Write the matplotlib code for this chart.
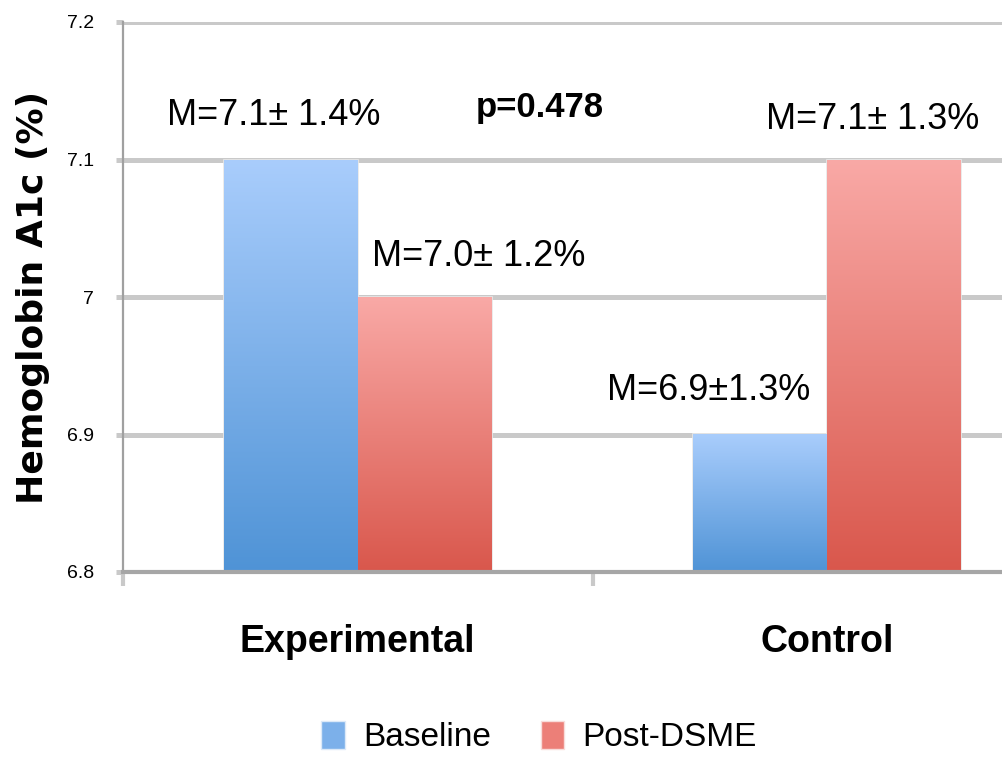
import numpy as np
import matplotlib
matplotlib.use("Agg")
import matplotlib.pyplot as plt
from matplotlib import font_manager
from matplotlib.patches import Patch
from matplotlib.colors import LinearSegmentedColormap

# --- data ---
groups = ["Experimental", "Control"]
series = ["Baseline", "Post-DSME"]
baseline = [7.1, 6.9]
post_dsme = [7.0, 7.1]
baseline_sd = [1.4, 1.3]
post_sd = [1.2, 1.3]
y_ticks = [6.8, 6.9, 7.0, 7.1, 7.2]
y_tick_labels = ["6.8", "6.9", "7", "7.1", "7.2"]
p_text = "p=0.478"

# --- font ---
names = {f.name for f in font_manager.fontManager.ttflist}
family = "Liberation Sans Narrow" if "Liberation Sans Narrow" in names else "Liberation Sans"
plt.rcParams["font.family"] = [family, "DejaVu Sans"]

W, H, DPI = 1002, 758, 100
fig = plt.figure(figsize=(W / DPI, H / DPI), dpi=DPI)
# axes box in pixels: left 123, right 1062 (runs past the figure edge), bottom 572, top 22
ax = fig.add_axes([123 / W, (H - 572) / H, (1062 - 123) / W, (572 - 22) / H])
ax.set_xlim(-0.5, 1.5)
ax.set_ylim(6.8, 7.2)

grid_c = "#c9c9c9"
ax.set_yticks(y_ticks)
ax.set_yticklabels(y_tick_labels, fontsize=14)
ax.yaxis.grid(True, color=grid_c, linewidth=3.6, zorder=0)
ax.set_axisbelow(True)
ax.tick_params(axis="y", length=5, width=3.6, color=grid_c, pad=16)
ax.set_xticks([-0.5, 0.5, 1.5], minor=False)
ax.set_xticklabels([])
ax.tick_params(axis="x", length=10, width=3, color="#c9c9c9")

for s in ["top", "right"]:
    ax.spines[s].set_visible(False)
ax.spines["left"].set_color("#a0a0a0")
ax.spines["left"].set_linewidth(1.6)
ax.spines["bottom"].set_color("#a6a6a6")
ax.spines["bottom"].set_linewidth(3.0)
ax.spines["bottom"].set_zorder(5)

# group labels below the axis
for i, g in enumerate(groups):
    ax.text(i, -0.128, g, transform=ax.get_xaxis_transform(), ha="center", va="center",
            fontsize=27, fontweight="bold")

ax.set_ylabel("Hemoglobin A1c (%)", fontsize=26, fontweight="bold", labelpad=12,
              family=["DejaVu Sans"])

# --- bars with vertical gradients ---
x = np.arange(len(groups))
bw = 0.285
blue_cmap = LinearSegmentedColormap.from_list("b", ["#4f93d6", "#a9cdfc"])
red_cmap = LinearSegmentedColormap.from_list("r", ["#d9574c", "#f9a9a6"])
grad = np.linspace(0, 1, 256).reshape(-1, 1)

def gradient_bars(xpos, vals, cmap):
    bars = ax.bar(xpos, np.array(vals) - 6.8, bw, bottom=6.8, color="none",
                  edgecolor="#e8e8e8", linewidth=1.2, zorder=2)
    for b in bars:
        x0, y0 = b.get_x(), b.get_y()
        im = ax.imshow(grad, extent=[x0, x0 + b.get_width(), y0, y0 + b.get_height()],
                       origin="lower", cmap=cmap, aspect="auto", zorder=2.5,
                       interpolation="bicubic")
        im.set_clip_path(b)
    return bars

b1 = gradient_bars(x - bw / 2, baseline, blue_cmap)
b2 = gradient_bars(x + bw / 2, post_dsme, red_cmap)
ax.set_xlim(-0.5, 1.5)
ax.set_ylim(6.8, 7.2)

# value labels: horizontal pixel offsets from bar centre
b_offsets = [-17, -52]
p_offsets = [54, -22]
b_fmt = ["M={:.1f}± {:.1f}%", "M={:.1f}±{:.1f}%"]
p_fmt = ["M={:.1f}± {:.1f}%", "M={:.1f}± {:.1f}%"]
for i in range(len(groups)):
    ax.annotate(b_fmt[i].format(baseline[i], baseline_sd[i]), (x[i] - bw / 2, baseline[i]),
                xytext=(b_offsets[i], 44), textcoords="offset pixels",
                ha="center", va="center", fontsize=26, zorder=6)
    ax.annotate(p_fmt[i].format(post_dsme[i], post_sd[i]), (x[i] + bw / 2, post_dsme[i]),
                xytext=(p_offsets[i], 40), textcoords="offset pixels",
                ha="center", va="center", fontsize=26, zorder=6)

ax.text((540 - 123) / (1062 - 123), (572 - 108) / (572 - 22), p_text, transform=ax.transAxes,
        ha="center", va="center", fontsize=25, fontweight="bold")

# --- legend ---
handles = [Patch(facecolor="#7cb0ea", edgecolor="#dce9f8"),
           Patch(facecolor="#ec7f78", edgecolor="#f8dcda")]
fig.legend(handles, series, loc="center", bbox_to_anchor=(539 / W, 1 - 737 / H),
           ncol=2, frameon=False, fontsize=24, handlelength=0.7, handleheight=0.95,
           handletextpad=0.55, columnspacing=1.5)

fig.savefig("out.png", dpi=DPI)
